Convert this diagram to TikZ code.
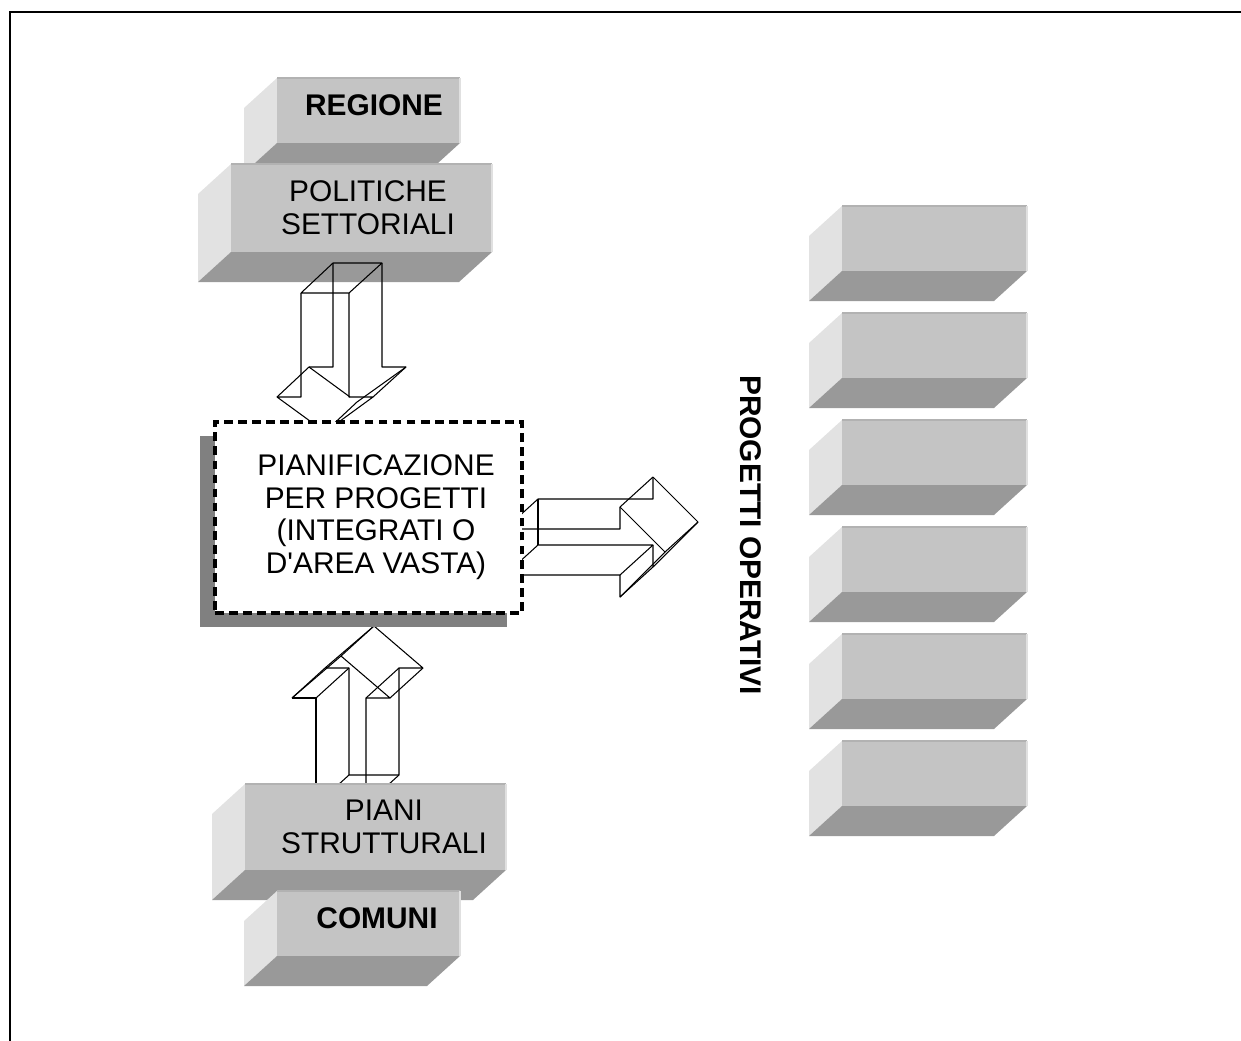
\documentclass[tikz,border=0pt]{standalone}
\usepackage{fontspec}
\setmainfont{Liberation Sans}
\usetikzlibrary{shadows}
\definecolor{fronte}{HTML}{C4C4C4}
\definecolor{lato}{HTML}{E2E2E2}
\definecolor{fondo}{HTML}{999999}
\definecolor{bordo}{HTML}{B2B2B2}
\definecolor{luce}{HTML}{E0E0E0}
\definecolor{ombra}{HTML}{808080}
\tikzset{filo/.style={draw=black,line width=0.6pt,line join=round},
  etichetta/.style={font=\fontsize{17}{18.6}\selectfont,align=center,inner sep=0pt},
  titolo/.style={etichetta,font=\fontsize{17}{18.6}\selectfont\bfseries},
  cornice/.style={draw=black,line width=1.8pt,dash pattern=on 5pt off 3pt,fill=white,
    minimum width=6.14cm,minimum height=3.82cm,
    drop shadow={shadow xshift=-0.3cm,shadow yshift=-0.28cm,fill=ombra,opacity=1}}}
% blocco 3D: x, y dello spigolo in alto a sinistra, larghezza, altezza
\newcommand{\blocco}[4]{%
  \fill[lato] (#1,#2) -- ++(-33,30) -- ++(0,#4) -- ++(33,-30) -- cycle;
  \fill[fondo] (#1,#2+#4) -- ++(#3,0) -- ++(-33,30) -- ++(-#3,0) -- cycle;
  \fill[fronte] (#1,#2) rectangle ++(#3,#4);
  \draw[bordo,line width=0.6pt] (#1,#2) -- ++(#3,0);
  \draw[luce,line width=0.6pt] (#1+#3,#2) -- ++(0,#4);}

\begin{document}
\begin{tikzpicture}[x=0.02cm,y=-0.02cm]
\useasboundingbox (0,0) rectangle (1241,1041);
\draw[line width=1.2pt] (10,1041) -- (10,12) -- (1241,12);
\blocco{277}{78}{183}{65}
\blocco{231}{164}{261}{88}
% freccia giu
\draw[filo] (333,263) -- (382,263) -- (349,293) -- (301,293) -- cycle;
\draw[filo] (301,293) -- (301,397) -- (277,397) -- (325,432);
\draw[filo] (277,397) -- (309,367) -- (333,367) -- (333,263);
\draw[filo] (309,367) -- (350,397);
\draw[filo] (349,293) -- (349,397) -- (373,397) -- (325,432);
\draw[filo] (373,397) -- (406,367) -- (382,367) -- (382,263);
\draw[filo] (406,367) -- (357,402) -- (325,432);
% freccia su
\draw[filo] (292,698) -- (341,656) -- (390,698) -- (366,698) -- (366,805);
\draw[filo] (292,698) -- (316,698) -- (316,805);
\draw[filo] (292,698) -- (325,668) -- (374,626) -- (423,668) -- (399,668) -- (399,775) -- (349,775) -- (349,668) -- (325,668);
\draw[filo] (316,698) -- (349,668);
\draw[filo] (366,698) -- (399,668);
\draw[filo] (390,698) -- (423,668);
\draw[filo] (341,656) -- (374,626);
\draw[filo] (349,775) -- (316,805);
\draw[filo] (399,775) -- (366,805);
% freccia destra
\draw[filo] (505,529) -- (538,499) -- (653,499) -- (653,477);
\draw[filo] (538,499) -- (538,545);
\draw[filo] (505,529) -- (620,529) -- (620,507) -- (653,477);
\draw[filo] (620,507) -- (665,552) -- (620,597) -- (620,575) -- (505,575);
\draw[filo] (653,477) -- (698,522) -- (653,567) -- (653,545);
\draw[filo] (505,575) -- (538,545) -- (653,545) -- (620,575);
\draw[filo] (620,597) -- (653,567);
\draw[filo] (698,522) -- (665,552);
\blocco{245}{784}{261}{86}
\blocco{277}{891}{183}{65}
\node[cornice] (pianif) at (368.5,517.5) {};
\foreach \k in {0,...,5} {\blocco{842}{206+107*\k}{185}{65}}
\node[titolo] (regione) at (374,105) {REGIONE};
\node[etichetta] (politiche) at (368,208) {POLITICHE\\SETTORIALI};
\node[etichetta] (progetti) at (376,517) {PIANIFICAZIONE\\PER PROGETTI\\(INTEGRATI O\\D\textquotesingle AREA VASTA)};
\node[etichetta] (piani) at (384,827) {PIANI\\STRUTTURALI};
\node[titolo] (comuni) at (377,918) {COMUNI};
\node[titolo,rotate=-90] (operativi) at (751,535) {PROGETTI OPERATIVI};
\end{tikzpicture}
\end{document}
